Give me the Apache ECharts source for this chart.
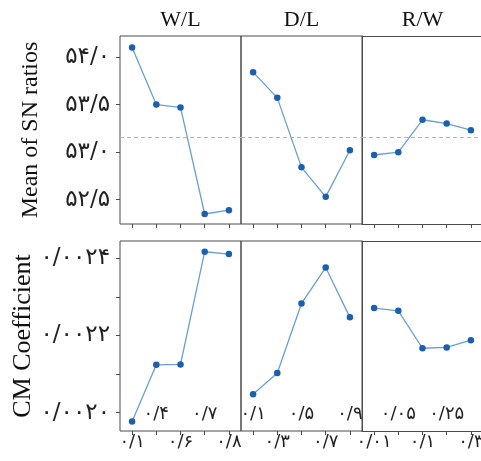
<!DOCTYPE html>
<html>
<head>
<meta charset="utf-8">
<script src="https://cdn.jsdelivr.net/npm/echarts@6/dist/echarts.min.js"></script>
<style>
  html, body { margin: 0; padding: 0; background: #fff; }
  #chart { width: 481px; height: 461px; }
</style>
</head>
<body>
<div id="chart"></div>
<script>
// Factor levels (x categories) for each design parameter
const factorNames = ['W/L', 'D/L', 'R/W'];
const wlLevels = ['۰/۱', '۰/۴', '۰/۶', '۰/۷', '۰/۸'];
const dlLevels = ['۰/۱', '۰/۳', '۰/۵', '۰/۷', '۰/۹'];
const rwLevels = ['۰/۰۱', '۰/۰۵', '۰/۱', '۰/۲۵', '۰/۳'];

// Main effects: mean of S/N ratios per level
const snWL = [54.10, 53.50, 53.47, 52.35, 52.39];
const snDL = [53.84, 53.57, 52.84, 52.53, 53.02];
const snRW = [52.97, 53.00, 53.34, 53.30, 53.23];

// Main effects: CM coefficient per level
const cmWL = [0.001977, 0.002124, 0.002125, 0.002417, 0.002411];
const cmDL = [0.002048, 0.002103, 0.002283, 0.002376, 0.002247];
const cmRW = [0.002271, 0.002264, 0.002167, 0.002169, 0.002188];

// Y-axis ticks and labels
const snTicks = [52.5, 53.0, 53.5, 54.0];
const cmTicks = [0.0020, 0.0021, 0.0022, 0.0023, 0.0024];
const cmLabels = [0.0020, 0.0022, 0.0024];

const persianDigits = '۰۱۲۳۴۵۶۷۸۹';
function toPersian(str) {
  return str.replace(/[0-9]/g, d => persianDigits[+d]).replace('.', '/');
}
function mean(arr) { return arr.reduce((a, b) => a + b, 0) / arr.length; }

const snMean = mean(snWL.concat(snDL, snRW));
const cmMean = mean(cmWL.concat(cmDL, cmRW));

const levels = [wlLevels, dlLevels, rwLevels];
const snSeries = [snWL, snDL, snRW];
const cmSeries = [cmWL, cmDL, cmRW];
// which level indices sit on the lower label row (the others are raised)
const lowerRow = [[0, 2, 4], [1, 3], [0, 2, 4]];

const SERIF = "'Liberation Serif', 'DejaVu Serif', serif";
const DIGITS = "'DejaVu Sans', sans-serif";
const frame = '#4a4a4a';
const lineColor = '#6a9fd6';
const dotColor = '#1b5fae';

const colLeft = [120, 241, 362];
const colWidth = 121;
const rows = [{ top: 36, height: 188 }, { top: 241, height: 190 }];

const grids = [], xAxes = [], yAxes = [], series = [];

rows.forEach((row, r) => {
  colLeft.forEach((left, c) => {
    const g = grids.length;
    // the last column runs off the right edge, so its frame is drawn
    // with axis lines (left, top, bottom) instead of the grid box
    const openRight = c === 2;
    const edge = { show: openRight, onZero: false, lineStyle: { color: frame, width: 1 } };
    grids.push({
      left: left, top: row.top, width: colWidth, height: row.height,
      outerBoundsMode: 'none',
      show: !openRight, borderColor: frame, borderWidth: 1, backgroundColor: 'transparent'
    });

    // main x axis: ticks (and lower labels on the bottom row)
    xAxes.push({
      gridIndex: g, type: 'category', data: levels[c], position: 'bottom',
      axisLine: edge,
      axisTick: { show: true, alignWithLabel: true, interval: 0, length: 4,
                  lineStyle: { color: frame } },
      axisLabel: {
        show: r === 1, interval: 0, margin: 11, verticalAlign: 'middle',
        fontFamily: DIGITS, fontSize: 18, color: '#222',
        formatter: (v, i) => lowerRow[c].includes(i) ? v : ''
      },
      splitLine: { show: false }
    });

    if (r === 1) {
      // raised label row, drawn just inside the plot frame
      xAxes.push({
        gridIndex: g, type: 'category', data: levels[c], position: 'bottom',
        axisLine: { show: false }, axisTick: { show: false },
        axisLabel: {
          show: true, interval: 0, margin: -17, verticalAlign: 'middle',
          fontFamily: DIGITS, fontSize: 18, color: '#222',
          formatter: (v, i) => lowerRow[c].includes(i) ? '' : v
        },
        splitLine: { show: false }
      });
      if (openRight) {
        xAxes.push({
          gridIndex: g, type: 'category', data: levels[c], position: 'top',
          axisLine: edge, axisTick: { show: false },
          axisLabel: { show: false }, splitLine: { show: false }
        });
      }
    } else {
      // factor title above the column
      xAxes.push({
        gridIndex: g, type: 'category', data: levels[c], position: 'top',
        axisLine: edge, axisTick: { show: false },
        axisLabel: { show: false }, splitLine: { show: false },
        name: factorNames[c], nameLocation: 'middle', nameGap: 5,
        nameTextStyle: { fontFamily: SERIF, fontSize: 22, color: '#111' }
      });
    }

    const first = c === 0;
    const y = r === 0 ? {
      min: 52.245, max: 54.22,
      axisTick: { show: first, length: 4, customValues: snTicks, lineStyle: { color: frame } },
      axisLabel: { show: first, margin: 10, customValues: snTicks,
                   fontFamily: DIGITS, fontSize: 23, color: '#222',
                   formatter: v => toPersian(v.toFixed(1)) },
      name: first ? 'Mean of SN ratios' : '', nameGap: 77,
      nameTextStyle: { fontFamily: SERIF, fontSize: 24, color: '#111' }
    } : {
      min: 0.0019526, max: 0.0024448,
      axisTick: { show: first, length: 4, customValues: cmTicks, lineStyle: { color: frame } },
      axisLabel: { show: first, margin: 10, customValues: cmLabels,
                   fontFamily: DIGITS, fontSize: 23, color: '#222',
                   formatter: v => toPersian(v.toFixed(4)) },
      name: first ? 'CM Coefficient' : '', nameGap: 80,
      nameTextStyle: { fontFamily: SERIF, fontSize: 26, color: '#111' }
    };
    yAxes.push(Object.assign({
      gridIndex: g, type: 'value', position: 'left',
      axisLine: edge, splitLine: { show: false },
      nameLocation: 'middle', nameRotate: 90
    }, y));

    const xIndex = r === 1 && openRight ? xAxes.length - 3 : xAxes.length - 2;
    series.push({
      type: 'line', xAxisIndex: xIndex, yAxisIndex: g,
      data: r === 0 ? snSeries[c] : cmSeries[c],
      symbol: 'circle', symbolSize: 6.5,
      lineStyle: { color: lineColor, width: 1.3 },
      itemStyle: { color: dotColor },
      animation: false,
      markLine: {
        silent: true, symbol: 'none', label: { show: false },
        lineStyle: { color: '#b5b5b5', type: [4, 3], width: 1 },
        data: [{ yAxis: r === 0 ? snMean : cmMean }]
      }
    });
  });
});

const chart = echarts.init(document.getElementById('chart'), null, { renderer: 'canvas' });
chart.setOption({
  animation: false,
  backgroundColor: '#fff',
  grid: grids, xAxis: xAxes, yAxis: yAxes, series: series
});
</script>
</body>
</html>
